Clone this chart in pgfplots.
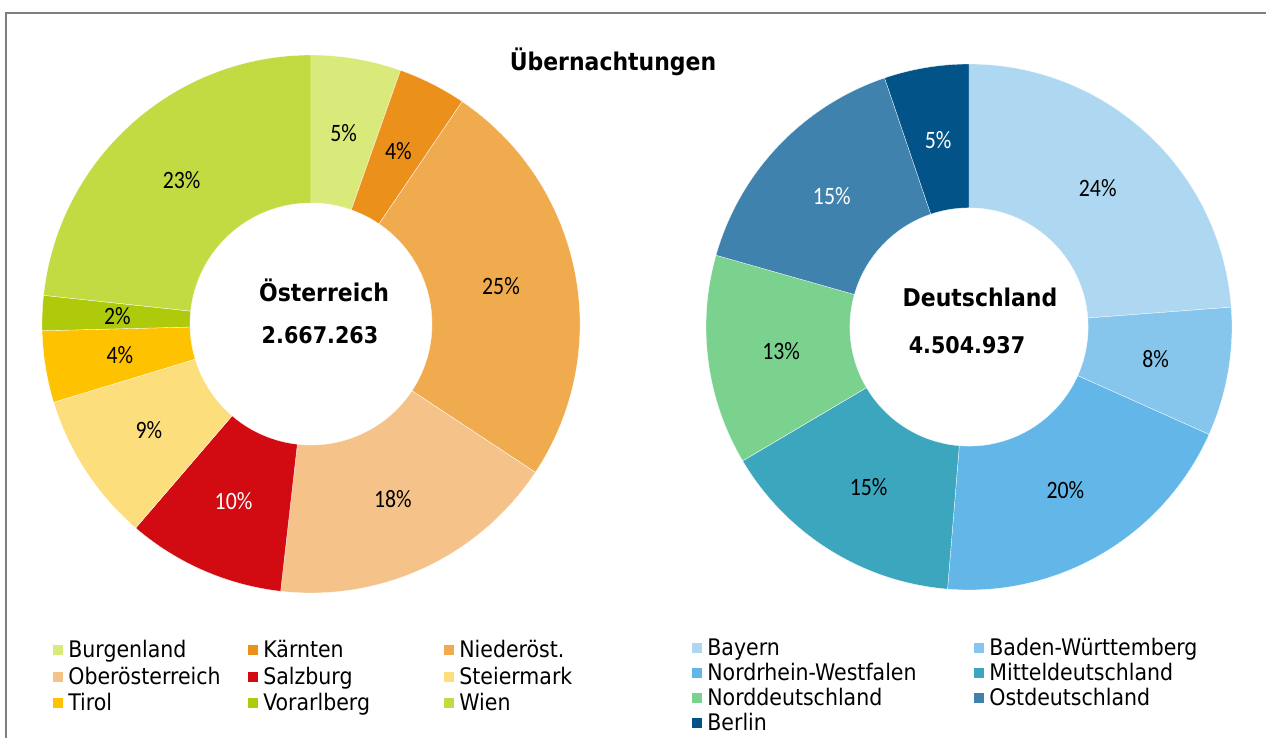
\documentclass[border=0pt]{standalone}
\usepackage{pgfplots}
\pgfplotsset{compat=1.18}
\usepackage{pgfplotstable}
\usepackage{fontspec}
\setmainfont{DejaVu Sans Condensed}
\newfontfamily\pctfont{Carlito}[FakeStretch=0.87]

\definecolor{cBurg}{HTML}{D9EA7A}
\definecolor{cKarn}{HTML}{EC901C}
\definecolor{cNied}{HTML}{F0AB4F}
\definecolor{cOber}{HTML}{F5C389}
\definecolor{cSalz}{HTML}{D20A11}
\definecolor{cStei}{HTML}{FDDE7C}
\definecolor{cTiro}{HTML}{FEC200}
\definecolor{cVora}{HTML}{AFCA0B}
\definecolor{cWien}{HTML}{C3DB43}
\definecolor{cBay}{HTML}{AED8F2}
\definecolor{cBW}{HTML}{87C6EC}
\definecolor{cNRW}{HTML}{62B7E8}
\definecolor{cMit}{HTML}{3DA6BF}
\definecolor{cNord}{HTML}{7BD28F}
\definecolor{cOst}{HTML}{3F82AD}
\definecolor{cBer}{HTML}{025387}
\definecolor{frame}{HTML}{7F7F7F}

\pgfplotstableread{
name val col lab lc
Burgenland 5.4 cBurg 5 black
Kaernten 4.1 cKarn 4 black
Niederoest 24.8 cNied 25 black
Oberoesterreich 17.5 cOber 18 black
Salzburg 9.5 cSalz 10 white
Steiermark 9.0 cStei 9 black
Tirol 4.3 cTiro 4 black
Vorarlberg 2.1 cVora 2 black
Wien 23.3 cWien 23 black
}\tabAT

\pgfplotstableread{
name val col lab lc
Bayern 23.8 cBay 24 black
BadenWuerttemberg 7.9 cBW 8 black
NRW 19.6 cNRW 20 black
Mitteldeutschland 15.2 cMit 15 black
Norddeutschland 12.9 cNord 13 black
Ostdeutschland 15.4 cOst 15 white
Berlin 5.2 cBer 5 white
}\tabDE

% #1 table, #2 outer radius (pt), #3 inner ratio
\newcommand\donut[3]{%
  \pgfplotstablegetrowsof{#1}%
  \pgfmathtruncatemacro\N{\pgfplotsretval-1}%
  \gdef\cum{0}%
  \pgfplotsforeachungrouped \i in {0,...,\N}{%
    \pgfplotstablegetelem{\i}{val}\of#1\let\v\pgfplotsretval
    \pgfplotstablegetelem{\i}{col}\of#1\let\c\pgfplotsretval
    \pgfplotstablegetelem{\i}{lab}\of#1\let\l\pgfplotsretval
    \pgfplotstablegetelem{\i}{lc}\of#1\let\lc\pgfplotsretval
    \pgfmathsetmacro\aone{90-3.6*\cum}%
    \pgfmathsetmacro\cumnew{\cum+\v}%
    \pgfmathsetmacro\atwo{90-3.6*\cumnew}%
    \pgfmathsetmacro\amid{(\aone+\atwo)/2}%
    \fill[\c, draw=white, line width=0.15pt]
      (axis cs:{cos(\aone)},{sin(\aone)})
      arc[start angle=\aone, end angle=\atwo, radius=#2]
      -- (axis cs:{#3*cos(\atwo)},{#3*sin(\atwo)})
      arc[start angle=\atwo, end angle=\aone, radius=#3*#2]
      -- cycle;
    \node[text=\lc, font=\pctfont\fontsize{12.5pt}{15pt}\selectfont, inner sep=0pt]
      at (axis cs:{0.72*cos(\amid)},{0.72*sin(\amid)}) {\l\%};
    \xdef\cum{\cumnew}%
  }%
}

\begin{document}
\begin{tikzpicture}
\begin{scope}[x=0.5pt, y=-0.5pt]
\useasboundingbox (0,0) rectangle (1266,738);
\draw[frame, line width=1pt] (6,738) -- (6,13) -- (1266,13);
\end{scope}

\begin{axis}[hide axis, x=134.5pt, y=134.5pt, xmin=-1, xmax=1, ymin=-1, ymax=1,
  enlargelimits=false, clip=false, anchor=center, at={(155.5pt,-162pt)}]
\pgfplotsextra{\donut{\tabAT}{134.5pt}{0.45}}
\end{axis}

\begin{axis}[hide axis, x=131.5pt, y=131.5pt, xmin=-1, xmax=1, ymin=-1, ymax=1,
  enlargelimits=false, clip=false, anchor=center, at={(484.5pt,-163.5pt)}]
\pgfplotsextra{\donut{\tabDE}{131.5pt}{0.453}}
\end{axis}

\begin{scope}[x=0.5pt, y=-0.5pt]
\node[font=\bfseries\fontsize{12.2pt}{14pt}\selectfont] at (613,62) {Übernachtungen};
\node[font=\bfseries\fontsize{12.2pt}{14pt}\selectfont] at (324,290) {Österreich};
\node[font=\bfseries\fontsize{11.5pt}{14pt}\selectfont] at (320,335) {2.667.263};
\node[font=\bfseries\fontsize{12.2pt}{14pt}\selectfont] at (980,297) {Deutschland};
\node[font=\bfseries\fontsize{11.5pt}{14pt}\selectfont] at (967,345) {4.504.937};

% legend Austria
\foreach \x/\y/\c/\t in {53/649/cBurg/Burgenland, 248/649/cKarn/Kärnten, 444/649/cNied/Niederöst.,
  53/676/cOber/Oberösterreich, 248/676/cSalz/Salzburg, 444/676/cStei/Steiermark,
  53/702/cTiro/Tirol, 248/702/cVora/Vorarlberg, 444/702/cWien/Wien}{
  \fill[\c] (\x,\y-4) rectangle ++(10,10);
  \node[anchor=base west, inner sep=0pt, font=\fontsize{11.4pt}{13pt}\selectfont] at (\x+15,\y+8) {\t};
}
% legend Germany
\foreach \x/\y/\c/\t in {692/647/cBay/Bayern, 974/647/cBW/Baden-Württemberg,
  692/672/cNRW/Nordrhein-Westfalen, 974/672/cMit/Mitteldeutschland,
  692/697/cNord/Norddeutschland, 974/697/cOst/Ostdeutschland,
  692/722/cBer/Berlin}{
  \fill[\c] (\x,\y-4) rectangle ++(10,10);
  \node[anchor=base west, inner sep=0pt, font=\fontsize{11.4pt}{13pt}\selectfont] at (\x+15,\y+8) {\t};
}
\end{scope}
\end{tikzpicture}
\end{document}
